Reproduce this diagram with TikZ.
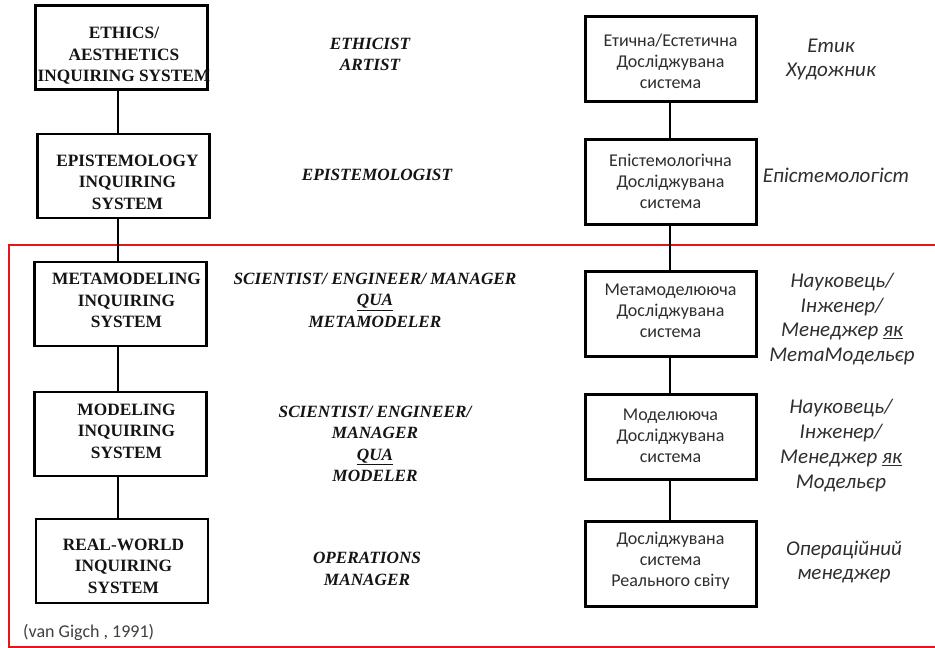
\documentclass[tikz,border=0pt]{standalone}
\usepackage{fontspec}
\setmainfont{Liberation Serif}
\newfontfamily\calfont{Carlito}
\definecolor{inkgray}{HTML}{2E2E2E}
\definecolor{framered}{HTML}{E8141A}
\tikzset{
  lbox/.style={draw=black, line width=2.3pt, minimum width=172pt, minimum height=84pt, inner sep=0pt},
  rbox/.style={draw=black, line width=3pt, minimum width=171pt, minimum height=85pt, inner sep=0pt},
  link/.style={draw=black, line width=2.3pt},
  ltext/.style={font=\fontsize{17.3}{21.5}\selectfont\bfseries, align=center, inner sep=0pt, text=black!92},
  mtext/.style={font=\fontsize{17.2}{21.5}\selectfont\bfseries\itshape, align=center, inner sep=0pt, text=black!92},
  rtext/.style={font=\calfont\fontsize{18}{21}\selectfont, align=center, inner sep=0pt, text=inkgray},
  itext/.style={font=\calfont\itshape\fontsize{21}{24.8}\selectfont, align=center, inner sep=0pt, text=inkgray},
}
\begin{document}
\begin{tikzpicture}[x=1pt, y=-1pt]
\useasboundingbox (0,0) rectangle (935,648);
\fill[white] (0,0) rectangle (935,648);

% red frame around the three lower levels (open to the right)
\draw[framered, line width=2pt] (936,245) -- (8.5,245) -- (8.5,646.5) -- (936,646.5);

% axes of the two vertical chains
\coordinate (lx) at (118,0);
\coordinate (rx) at (670,0);

% left column: inquiring systems
\node[lbox] (L1) at (121.5,47.5) {};
\node[lbox] (L2) at (123.5,176) {};
\node[lbox] (L3) at (120.5,304) {};
\node[lbox] (L4) at (120.5,434) {};
\node[lbox] (L5) at (122,561) {};
\draw[link] (L1.south -| lx) -- (L2.north -| lx);
\draw[link] (L2.south -| lx) -- (L3.north -| lx);
\draw[link] (L3.south -| lx) -- (L4.north -| lx);
\draw[link] (L4.south -| lx) -- (L5.north -| lx);

\node[ltext] (L1t) at (124,56) {ETHICS/\\AESTHETICS\\INQUIRING SYSTEM};
\node[ltext] (L2t) at (127.5,182) {EPISTEMOLOGY\\INQUIRING\\SYSTEM};
\node[ltext] (L3t) at (126.5,300.5) {METAMODELING\\INQUIRING\\SYSTEM};
\node[ltext] (L4t) at (126.5,431) {MODELING\\INQUIRING\\SYSTEM};
\node[ltext] (L5t) at (123.5,566) {REAL-WORLD\\INQUIRING\\SYSTEM};

% middle column: roles
\node[mtext] (M1) at (370,54.5) {ETHICIST\\ARTIST};
\node[mtext] (M2) at (377,175) {EPISTEMOLOGIST};
\node[mtext] (M3) at (375,300) {SCIENTIST/ ENGINEER/ MANAGER\\\underline{QUA}\\METAMODELER};
\node[mtext] (M4) at (375,444) {SCIENTIST/ ENGINEER/\\MANAGER\\\underline{QUA}\\MODELER};
\node[mtext] (M5) at (367,569) {OPERATIONS\\MANAGER};

% right column: Ukrainian version
\node[rbox] (R1) at (670.5,59) {};
\node[rbox] (R2) at (670.5,181.5) {};
\node[rbox] (R3) at (670.5,314) {};
\node[rbox] (R4) at (670.5,436.5) {};
\node[rbox] (R5) at (670.5,563.5) {};
\draw[link] (R1.south -| rx) -- (R2.north -| rx);
\draw[link] (R2.south -| rx) -- (R3.north -| rx);
\draw[link] (R3.south -| rx) -- (R4.north -| rx);
\draw[link] (R4.south -| rx) -- (R5.north -| rx);

\node[rtext] (R1t) at (670.5,61) {Етична/Естетична\\Досліджувана\\система};
\node[rtext] (R2t) at (670.5,181) {Епістемологічна\\Досліджувана\\система};
\node[rtext] (R3t) at (670.5,311) {Метамоделююча\\Досліджувана\\система};
\node[rtext] (R4t) at (670.5,436) {Моделююча\\Досліджувана\\система};
\node[rtext] (R5t) at (670.5,561) {Досліджувана\\система\\Реального світу};

\node[itext] (I1) at (831,59.5) {Етик\\Художник};
\node[itext] (I2) at (836,175) {Епістемологіст};
\node[itext] (I3) at (842,319) {Науковець/\\Інженер/\\Менеджер \underline{як}\\МетаМодельєр};
\node[itext] (I4) at (841,445.5) {Науковець/\\Інженер/\\Менеджер \underline{як}\\Модельєр};
\node[itext] (I5) at (844,562) {Операційний\\менеджер};

% source note
\node[rtext, anchor=west, text=black!75] (src) at (23,632) {(van Gigch , 1991)};
\end{tikzpicture}
\end{document}
